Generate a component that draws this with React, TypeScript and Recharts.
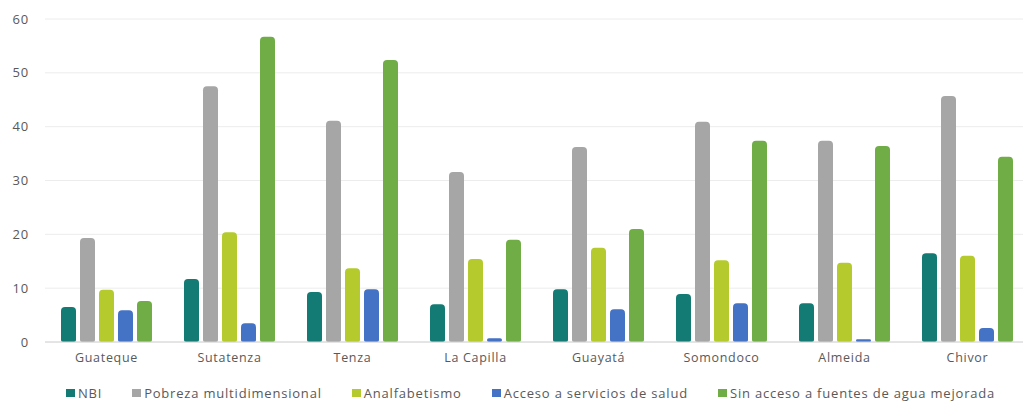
import * as React from "react";
import { BarChart, Bar, XAxis, YAxis, CartesianGrid, Legend } from "recharts";

const municipios = ["Guateque", "Sutatenza", "Tenza", "La Capilla", "Guayatá", "Somondoco", "Almeida", "Chivor"];
const nbi = [6.5, 11.7, 9.3, 7.0, 9.8, 8.9, 7.2, 16.5];
const pobreza = [19.3, 47.5, 41.1, 31.6, 36.2, 40.9, 37.4, 45.7];
const analfabetismo = [9.7, 20.4, 13.7, 15.4, 17.5, 15.2, 14.7, 16.0];
const saludAcceso = [5.9, 3.5, 9.8, 0.7, 6.1, 7.2, 0.5, 2.6];
const aguaSinAcceso = [7.6, 56.7, 52.4, 19.0, 21.0, 37.4, 36.4, 34.4];
const yTicks = [0, 10, 20, 30, 40, 50, 60];

const series = [
  { key: "nbi", name: "NBI", color: "#137b74" },
  { key: "pobreza", name: "Pobreza multidimensional", color: "#a6a6a6" },
  { key: "analf", name: "Analfabetismo", color: "#b5cb2d" },
  { key: "salud", name: "Acceso a servicios de salud", color: "#4472c4" },
  { key: "agua", name: "Sin acceso a fuentes de agua mejorada", color: "#70ad47" },
];

const data = municipios.map((m, i) => ({
  name: m,
  nbi: nbi[i],
  pobreza: pobreza[i],
  analf: analfabetismo[i],
  salud: saludAcceso[i],
  agua: aguaSinAcceso[i],
}));

const font = "'Open Sans', sans-serif";
const textColor = "#595959";

function LegendBox() {
  return (
    <div style={{ display: "flex", justifyContent: "center", gap: 30, paddingTop: 15, paddingLeft: 32, fontFamily: font, fontSize: 13, color: textColor, letterSpacing: 0.8, lineHeight: "16px" }}>
      {series.map((s) => (
        <span key={s.key} style={{ display: "flex", alignItems: "center", whiteSpace: "nowrap" }}>
          <span style={{ display: "inline-block", width: 9, height: 8, background: s.color, marginRight: 3 }} />
          {s.name}
        </span>
      ))}
    </div>
  );
}

export default function App() {
  return (
    <div style={{ margin: "-8px 0 0 -8px", width: 1031, height: 403, background: "#fff" }}>
      <BarChart
        width={1031}
        height={403}
        data={data}
        margin={{ top: 19, right: 2, bottom: 0, left: 0 }}
        barSize={15}
        barGap={4}
      >
        <CartesianGrid vertical={false} stroke="#ececec" />
        <XAxis
          dataKey="name"
          height={28}
          tickLine={false}
          axisLine={{ stroke: "#d4d4d4" }}
          tick={{ fontFamily: font, fontSize: 12.5, fill: textColor, letterSpacing: 0.7 }}
          tickMargin={5}
        />
        <YAxis
          width={45}
          domain={[0, 60]}
          ticks={yTicks}
          axisLine={false}
          tickLine={false}
          tick={{ fontFamily: font, fontSize: 13, fill: textColor, letterSpacing: 0.8 }}
          tickMargin={10}
        />
        <Legend verticalAlign="bottom" height={33} content={() => <LegendBox />} />
        {series.map((s) => (
          <Bar key={s.key} dataKey={s.key} name={s.name} fill={s.color} radius={[4, 4, 2, 2]} isAnimationActive={false} />
        ))}
      </BarChart>
    </div>
  );
}
